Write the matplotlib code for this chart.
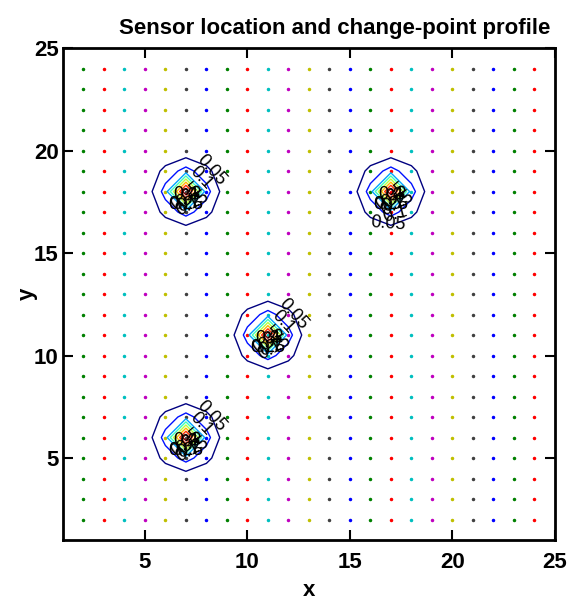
import numpy as np
import matplotlib
matplotlib.use("Agg")
from matplotlib import pyplot as plt

# sensors sit on every integer location from 2 to 24
grid_x = list(range(2, 25))
grid_y = list(range(2, 25))
# old matlab colour order, one colour per column of sensors (starts at x = 1)
dot_colors = ["#0000ff", "#008000", "#ff0000", "#00bfbf",
              "#bf00bf", "#bfbf00", "#404040"]

# change-point locations
change_x = [7, 17, 11, 7]
change_y = [18, 18, 11, 6]
# change-point profile read around each location (5x5 cells, centre = point)
profile = [[0.000, 0.005, 0.011, 0.005, 0.000],
           [0.005, 0.066, 0.122, 0.066, 0.005],
           [0.011, 0.122, 0.450, 0.122, 0.011],
           [0.005, 0.066, 0.122, 0.066, 0.005],
           [0.000, 0.005, 0.011, 0.005, 0.000]]
levels = [0.05, 0.1, 0.15, 0.2, 0.25, 0.3, 0.35, 0.4]

# where the labels of each contour sit (direction from the change point)
label_dirs = [[40, 40, -60, -75, -90, -60, -75, -90],
              [-95, -80, -60, -75, -90, -60, -75, -90],
              [40, 40, -60, -75, -90, -60, -75, -90],
              [40, 40, -60, -75, -90, -60, -75, -90]]

font = "Liberation Sans"


def main():
    fig = plt.figure(figsize=(5.72, 6.01), dpi=100)
    ax = fig.add_axes([0.110, 0.1015, 0.860, 0.8185])

    # sensor locations, one column at a time
    for x in grid_x:
        ax.plot([x] * len(grid_y), grid_y, ".", color=dot_colors[(x - 1) % 7],
                markersize=3.0)

    # change-point profile surface
    xs = np.arange(1, 26)
    ys = np.arange(1, 26)
    X, Y = np.meshgrid(xs, ys)
    Z = np.zeros(X.shape)
    prof = np.array(profile)
    for cx, cy in zip(change_x, change_y):
        Z[cy - 3:cy + 2, cx - 3:cx + 2] += prof

    cs = ax.contour(X, Y, Z, levels=levels, cmap="jet", linewidths=1.0)

    # label positions: point on each contour in the chosen direction
    spots = []
    paths = cs.get_paths()
    for k, (cx, cy) in enumerate(zip(change_x, change_y)):
        for i in range(len(levels)):
            polys = paths[i].to_polygons(closed_only=False)
            best = None
            ang = np.deg2rad(label_dirs[k][i])
            for poly in polys:
                if len(poly) < 2:
                    continue
                pts = []
                for a, b in zip(poly[:-1], poly[1:]):
                    for t in np.linspace(0, 1, 15):
                        pts.append(a + t * (b - a))
                pts = np.array(pts)
                d = np.hypot(pts[:, 0] - cx, pts[:, 1] - cy)
                ok = d < 2.5
                if not ok.any():
                    continue
                pts = pts[ok]
                th = np.arctan2(pts[:, 1] - cy, pts[:, 0] - cx)
                diff = np.abs(np.angle(np.exp(1j * (th - ang))))
                j = np.argmin(diff)
                if best is None or diff[j] < best[0]:
                    best = (diff[j], pts[j])
            if best is not None:
                spots.append((best[1][0], best[1][1]))

    ax.clabel(cs, levels, inline=False, manual=spots, fmt="%g", colors="k",
              fontsize=13)
    for t in cs.labelTexts:
        t.set_family(font)

    ax.set_xlim(1, 25)
    ax.set_ylim(1, 25)
    ax.set_xticks([5, 10, 15, 20, 25])
    ax.set_yticks([5, 10, 15, 20, 25])
    ax.tick_params(direction="in", length=7, width=1.5, top=True, right=True,
                   labelsize=16)
    ax.tick_params(axis="x", pad=9)
    ax.tick_params(axis="y", pad=3)
    for lab in ax.get_xticklabels() + ax.get_yticklabels():
        lab.set_family(font)
        lab.set_fontweight("bold")
    for sp in ax.spines.values():
        sp.set_linewidth(2)

    ax.set_title("Sensor location and change-point profile", x=0.553,
                 fontsize=16, fontweight="bold", family=font, pad=10)
    ax.set_xlabel("x", fontsize=16, fontweight="bold", family=font, labelpad=5)
    ax.set_ylabel("y", fontsize=16, fontweight="bold", family=font, labelpad=-3)

    fig.savefig("out.png", dpi=100)


main()
